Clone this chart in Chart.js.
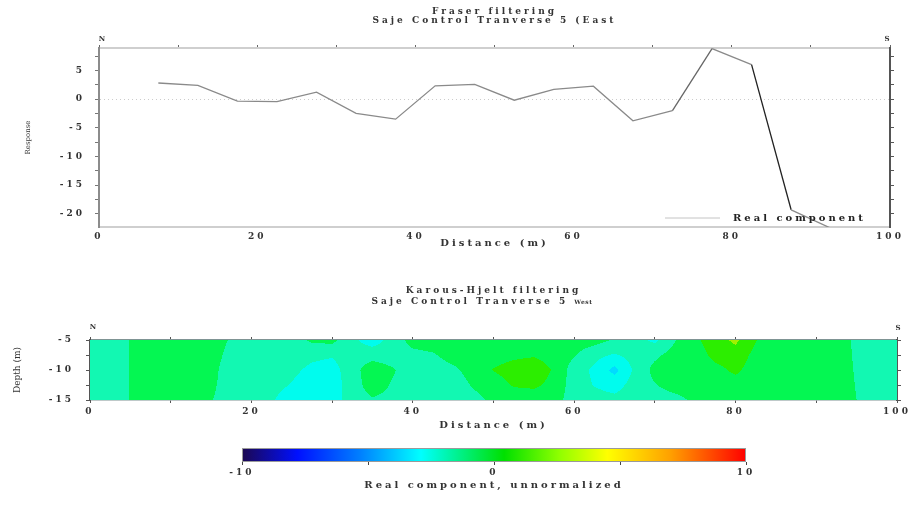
<!DOCTYPE html>
<html>
<head>
<meta charset="utf-8">
<script src="https://cdn.jsdelivr.net/npm/chart.js@4.4.1/dist/chart.umd.min.js"></script>
<style>
  html, body { margin: 0; padding: 0; background: #fff; }
  #wrap { position: relative; width: 914px; height: 522px; overflow: hidden; }
  canvas { position: absolute; left: 0; }
  #fraser { top: 0; }
  #kh { top: 280px; }
  #cbar { top: 435px; }
</style>
</head>
<body>
<div id="wrap">
  <canvas id="fraser" width="914" height="255"></canvas>
  <canvas id="kh" width="914" height="155"></canvas>
  <canvas id="cbar" width="914" height="87"></canvas>
</div>
<script>
// Fraser filtered real component, one value per station (m)
const stations = [7.5, 12.5, 17.5, 22.5, 27.5, 32.5, 37.5, 42.5, 47.5, 52.5, 57.5, 62.5, 67.5, 72.5, 77.5, 82.5, 87.5, 92.5];
const realComponent = [2.8, 2.4, -0.35, -0.45, 1.2, -2.5, -3.5, 2.3, 2.55, -0.2, 1.7, 2.25, -3.8, -2.0, 8.8, 6.0, -19.3, -22.5];

// labelled ticks
const distanceLabels = [0, 20, 40, 60, 80, 100];
const responseLabels = [5, 0, -5, -10, -15, -20];
const depthLabels = [-5, -10, -15];
const colourLabels = [-10, 0, 10];

// Karous-Hjelt section: grid nodes along distance and depth
const gridX = [0, 2.5, 5, 7.5, 10, 12.5, 15, 17.5, 20, 22.5, 25, 27.5, 30, 32.5, 35, 37.5, 40, 42.5, 45, 47.5, 50,
               52.5, 55, 57.5, 60, 62.5, 65, 67.5, 70, 72.5, 75, 77.5, 80, 82.5, 85, 87.5, 90, 92.5, 95, 97.5, 100];
const gridDepth = [-5, -7.5, -10, -12.5, -15];
// one column per gridX entry, top to bottom
const khValues = [
  [-1.5, -1.5, -1.5, -1.5, -1.5],
  [-1.6, -1.6, -1.6, -1.6, -1.6],
  [-0.95, -0.95, -0.95, -0.95, -0.95],
  [-0.5, -0.5, -0.5, -0.5, -0.5],
  [-0.5, -0.5, -0.5, -0.5, -0.5],
  [-0.5, -0.5, -0.5, -0.5, -0.5],
  [-0.5, -0.6, -0.7, -0.8, -0.95],
  [-1.1, -1.3, -1.5, -1.5, -1.5],
  [-1.5, -1.5, -1.5, -1.5, -1.5],
  [-1.5, -1.5, -1.5, -1.7, -1.9],
  [-1.5, -1.6, -1.8, -2.05, -2.5],
  [-0.8, -1.8, -2.2, -2.5, -2.5],
  [-0.7, -1.9, -2.4, -2.5, -2.5],
  [-1.8, -1.5, -1.4, -1.5, -1.5],
  [-2.5, -1.4, -0.4, -0.5, -1.1],
  [-1.6, -1.5, -0.9, -1.1, -1.3],
  [-0.6, -1.3, -1.5, -1.5, -1.5],
  [-0.5, -1.1, -1.5, -1.5, -1.5],
  [-0.5, -0.6, -1.2, -1.5, -1.5],
  [-0.5, -0.5, -0.6, -0.9, -1.3],
  [-0.5, -0.4, 0.05, -0.5, -0.8],
  [-0.5, -0.2, 0.4, 0.1, -0.6],
  [-0.5, -0.1, 0.6, 0.2, -0.6],
  [-0.6, -0.4, -0.1, -0.3, -0.6],
  [-0.5, -0.9, -1.5, -1.5, -1.5],
  [-0.6, -1.7, -2.2, -2.05, -1.6],
  [-1.1, -2.1, -3.3, -2.4, -1.7],
  [-1.7, -1.6, -1.8, -1.6, -1.5],
  [-2.2, -1.2, -0.7, -1.05, -1.5],
  [-1.05, -0.6, -0.5, -0.6, -1.3],
  [-0.2, -0.5, -0.5, -0.5, -0.8],
  [0.6, 0.3, -0.3, -0.5, -0.5],
  [1.2, 0.6, 0.2, -0.4, -0.5],
  [0.05, -0.3, -0.5, -0.5, -0.5],
  [-0.6, -0.5, -0.5, -0.5, -0.5],
  [-0.5, -0.5, -0.5, -0.5, -0.5],
  [-0.5, -0.5, -0.5, -0.5, -0.5],
  [-0.5, -0.5, -0.5, -0.5, -0.5],
  [-1.2, -1.15, -1.1, -1.05, -1.0],
  [-1.5, -1.5, -1.5, -1.5, -1.5],
  [-1.5, -1.5, -1.5, -1.5, -1.5]
];

// contour levels and fill colours
const bandEdges = [-3, -2, -1, 0, 1];
const bandColours = ['#00dcff', '#00fcee', '#12f8b2', '#04f752', '#2cee00', '#a0f000'];

// colour bar ramp
const rampValues = [-10, -7.8, -5.3, -2.9, 0.4, 2.6, 4.5, 7, 10];
const rampColours = ['#1c0850', '#0010ff', '#0080ff', '#00ffff', '#00e000', '#90ff00', '#ffff00', '#ffa000', '#ff0000'];

const family = '"DejaVu Serif", "Liberation Serif", serif';
Chart.defaults.font.family = family;
Chart.defaults.font.size = 9;
Chart.defaults.font.weight = 'bold';
Chart.defaults.color = '#333';

function label(ctx, text, x, y, o) {
  ctx.save();
  ctx.font = o.font;
  ctx.letterSpacing = o.spacing || '0px';
  ctx.fillStyle = o.color || '#333';
  ctx.textAlign = o.align || 'center';
  ctx.textBaseline = 'middle';
  ctx.translate(x, y);
  if (o.rotate) ctx.rotate(o.rotate);
  ctx.fillText(text, 0, 0);
  ctx.restore();
}

const wideText = {
  id: 'wideText',
  beforeDraw(chart) { chart.ctx.letterSpacing = '3px'; }
};

const onlyLabels = list => v => (list.includes(v) ? v : '');

// ---------- Fraser filtering ----------
const fraserDecor = {
  id: 'fraserDecor',
  afterDraw(chart) {
    const {ctx, chartArea: a} = chart;
    const cx = (a.left + a.right) / 2;
    label(ctx, 'Fraser filtering', cx, 12, {font: 'bold 9px ' + family, spacing: '3px'});
    label(ctx, 'Saje Control Tranverse 5 (East', cx, 21, {font: 'bold 9px ' + family, spacing: '3px'});
    label(ctx, 'N', a.left + 3, a.top - 9, {font: 'bold 7px ' + family});
    label(ctx, 'S', a.right - 3, a.top - 9, {font: 'bold 7px ' + family});
    label(ctx, 'Response', 28, (a.top + a.bottom) / 2, {font: '7px ' + family, rotate: -Math.PI / 2});
    // legend entry
    const ly = a.bottom - 9;
    ctx.save();
    ctx.strokeStyle = '#c4c4c4';
    ctx.lineWidth = 1;
    ctx.beginPath();
    ctx.moveTo(a.right - 225, ly);
    ctx.lineTo(a.right - 170, ly);
    ctx.stroke();
    ctx.restore();
    label(ctx, 'Real component', a.right - 157, ly, {font: 'bold 10px ' + family, spacing: '3px', align: 'left', color: '#222'});
  }
};

new Chart(document.getElementById('fraser'), {
  type: 'line',
  data: {
    datasets: [{
      label: 'Real component',
      data: stations.map((s, i) => ({x: s, y: realComponent[i]})),
      borderColor: '#8a8a8a',
      borderWidth: 1.3,
      pointRadius: 0,
      tension: 0,
      segment: {
        borderColor: c => (c.p0DataIndex === 15 ? '#222' : c.p0DataIndex === 13 ? '#666' : undefined)
      }
    }]
  },
  options: {
    responsive: false,
    animation: false,
    devicePixelRatio: 1,
    events: [],
    plugins: {legend: {display: false}, tooltip: {enabled: false}},
    scales: {
      x: {
        type: 'linear', position: 'bottom', min: 0, max: 100,
        afterFit: s => { s.height = 28; },
        ticks: {stepSize: 10, autoSkip: false, maxRotation: 0, padding: 4, callback: onlyLabels(distanceLabels)},
        grid: {drawOnChartArea: false, drawTicks: false},
        border: {color: '#cfcfcf', width: 2},
        title: {display: true, text: 'Distance (m)', font: {size: 10}, padding: {top: 0, bottom: 6}}
      },
      xTop: {
        type: 'linear', position: 'top', min: 0, max: 100,
        afterFit: s => { s.height = 48; },
        ticks: {stepSize: 10, display: false},
        grid: {drawOnChartArea: false, tickLength: 3, tickColor: '#666'},
        border: {color: '#cfcfcf', width: 2}
      },
      y: {
        type: 'linear', position: 'left', min: -22.3, max: 8.9,
        afterFit: s => { s.width = 99; },
        ticks: {stepSize: 2.5, includeBounds: false, autoSkip: false, padding: 10, callback: onlyLabels(responseLabels)},
        grid: {
          color: c => (c.tick && c.tick.value === 0 ? '#cccccc' : 'rgba(0,0,0,0)'),
          tickColor: '#777', tickLength: 4
        },
        border: {color: '#8c8c8c', width: 2, dash: [1, 3]}
      },
      yRight: {
        type: 'linear', position: 'right', min: -22.3, max: 8.9,
        afterFit: s => { s.width = 24; },
        ticks: {stepSize: 2.5, includeBounds: false, display: false},
        grid: {drawOnChartArea: false, tickColor: '#555', tickLength: 4},
        border: {color: '#555', width: 2}
      }
    }
  },
  plugins: [wideText, fraserDecor]
});

// ---------- Karous-Hjelt section ----------
function bracket(arr, v, descending) {
  for (let i = 0; i < arr.length - 1; i++) {
    const a = arr[i], b = arr[i + 1];
    if (descending ? (v <= a && v >= b) : (v >= a && v <= b)) return i;
  }
  return descending ? (v > arr[0] ? 0 : arr.length - 2) : (v < arr[0] ? 0 : arr.length - 2);
}

function khAt(x, d) {
  const i = bracket(gridX, x, false);
  const j = bracket(gridDepth, d, true);
  const tx = Math.min(1, Math.max(0, (x - gridX[i]) / (gridX[i + 1] - gridX[i])));
  const ty = Math.min(1, Math.max(0, (d - gridDepth[j]) / (gridDepth[j + 1] - gridDepth[j])));
  const v00 = khValues[i][j], v10 = khValues[i + 1][j];
  const v01 = khValues[i][j + 1], v11 = khValues[i + 1][j + 1];
  return (v00 * (1 - tx) + v10 * tx) * (1 - ty) + (v01 * (1 - tx) + v11 * tx) * ty;
}

function bandColour(v) {
  let k = 0;
  while (k < bandEdges.length && v >= bandEdges[k]) k++;
  return bandColours[k];
}

const khFill = {
  id: 'khFill',
  beforeDatasetsDraw(chart) {
    const {ctx, chartArea: a, scales: {x, y}} = chart;
    const x0 = Math.floor(a.left), x1 = Math.ceil(a.right);
    ctx.save();
    for (let py = Math.floor(a.top); py < Math.ceil(a.bottom); py++) {
      const d = y.getValueForPixel(py + 0.5);
      let start = x0, colour = null;
      for (let px = x0; px <= x1; px++) {
        const c = px < x1 ? bandColour(khAt(x.getValueForPixel(px + 0.5), d)) : null;
        if (c !== colour) {
          if (colour) { ctx.fillStyle = colour; ctx.fillRect(start, py, px - start, 1); }
          colour = c;
          start = px;
        }
      }
    }
    ctx.restore();
  },
  afterDraw(chart) {
    const {ctx, chartArea: a} = chart;
    const cx = (a.left + a.right) / 2;
    label(ctx, 'Karous-Hjelt filtering', cx, 11, {font: 'bold 9px ' + family, spacing: '3px'});
    ctx.save();
    ctx.font = 'bold 9px ' + family;
    ctx.letterSpacing = '3px';
    const full = ctx.measureText('Saje Control Tranverse 5 (East').width;
    const main = ctx.measureText('Saje Control Tranverse 5 ').width;
    ctx.restore();
    const sx = cx - full / 2;
    label(ctx, 'Saje Control Tranverse 5', sx, 22, {font: 'bold 9px ' + family, spacing: '3px', align: 'left'});
    label(ctx, 'West', sx + main, 22, {font: 'bold 6px ' + family, spacing: '0.5px', align: 'left'});
    label(ctx, 'N', a.left + 3, a.top - 13, {font: 'bold 7px ' + family});
    label(ctx, 'S', a.right + 1, a.top - 12, {font: 'bold 7px ' + family});
    label(ctx, 'Depth (m)', 18, (a.top + a.bottom) / 2, {font: '9px ' + family, rotate: -Math.PI / 2});
  }
};

const khNodes = [];
gridX.forEach((gx, i) => gridDepth.forEach((gd, j) => khNodes.push({x: gx, y: gd, v: khValues[i][j]})));

new Chart(document.getElementById('kh'), {
  type: 'scatter',
  data: {datasets: [{label: 'Real component', data: khNodes, pointRadius: 0}]},
  options: {
    responsive: false,
    animation: false,
    devicePixelRatio: 1,
    events: [],
    plugins: {legend: {display: false}, tooltip: {enabled: false}},
    scales: {
      x: {
        type: 'linear', position: 'bottom', min: 0, max: 100,
        afterFit: s => { s.height = 35; },
        ticks: {stepSize: 10, autoSkip: false, maxRotation: 0, padding: 3, callback: onlyLabels(distanceLabels)},
        grid: {drawOnChartArea: false, tickLength: 3, tickColor: '#555'},
        border: {color: '#7f9494', width: 1.5},
        title: {display: true, text: 'Distance (m)', font: {size: 10}, padding: {top: 0, bottom: 4}}
      },
      xTop: {
        type: 'linear', position: 'top', min: 0, max: 100,
        afterFit: s => { s.height = 60; },
        ticks: {stepSize: 10, display: false},
        grid: {drawOnChartArea: false, tickLength: 3, tickColor: '#555'},
        border: {color: '#7f9494', width: 1.5}
      },
      y: {
        type: 'linear', position: 'left', min: -15, max: -5,
        afterFit: s => { s.width = 90; },
        ticks: {stepSize: 2.5, autoSkip: false, padding: 12, callback: onlyLabels(depthLabels)},
        grid: {drawOnChartArea: false, tickLength: 4, tickColor: '#555'},
        border: {color: '#555', width: 2}
      },
      yRight: {
        type: 'linear', position: 'right', min: -15, max: -5,
        afterFit: s => { s.width = 17; },
        ticks: {stepSize: 2.5, display: false},
        grid: {drawOnChartArea: false, tickLength: 4, tickColor: '#555'},
        border: {color: '#555', width: 2}
      }
    }
  },
  plugins: [wideText, khFill]
});

// ---------- colour bar ----------
const rampFill = {
  id: 'rampFill',
  beforeDatasetsDraw(chart) {
    const {ctx, chartArea: a, scales: {x}} = chart;
    const g = ctx.createLinearGradient(a.left, 0, a.right, 0);
    rampValues.forEach((v, i) => {
      g.addColorStop((x.getPixelForValue(v) - a.left) / (a.right - a.left), rampColours[i]);
    });
    ctx.save();
    ctx.fillStyle = g;
    ctx.fillRect(a.left, a.top, a.right - a.left, a.bottom - a.top);
    ctx.strokeStyle = '#9a9a9a';
    ctx.lineWidth = 1;
    ctx.strokeRect(a.left + 0.5, a.top + 0.5, a.right - a.left - 1, a.bottom - a.top - 1);
    ctx.restore();
  }
};

new Chart(document.getElementById('cbar'), {
  type: 'scatter',
  data: {datasets: []},
  options: {
    responsive: false,
    animation: false,
    devicePixelRatio: 1,
    events: [],
    layout: {padding: {left: 242, right: 168, top: 13, bottom: 0}},
    plugins: {legend: {display: false}, tooltip: {enabled: false}},
    scales: {
      x: {
        type: 'linear', position: 'bottom', min: -10, max: 10,
        afterFit: s => { s.height = 60; },
        ticks: {stepSize: 5, autoSkip: false, maxRotation: 0, padding: 2, callback: onlyLabels(colourLabels)},
        grid: {drawOnChartArea: false, tickLength: 3, tickColor: '#444'},
        border: {display: false},
        title: {display: true, text: 'Real component, unnormalized', font: {size: 10}, padding: {top: 0, bottom: 31}}
      },
      y: {display: false, min: 0, max: 1}
    }
  },
  plugins: [wideText, rampFill]
});
</script>
</body>
</html>
